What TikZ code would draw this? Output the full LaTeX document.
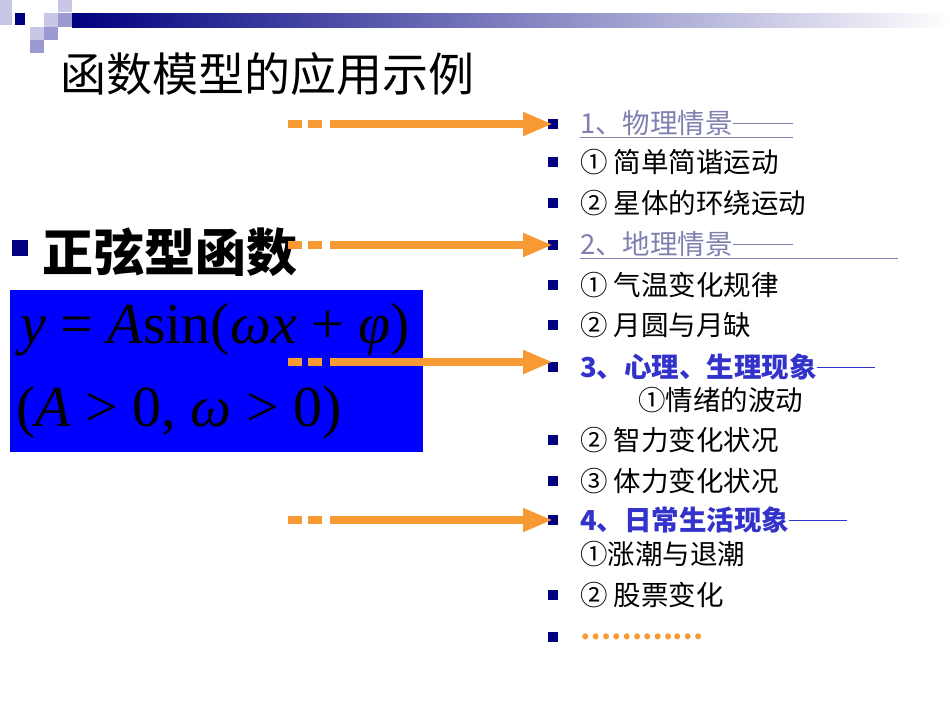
\documentclass[tikz,border=0pt]{standalone}
\usepackage{fontspec}
\setmainfont{Noto Sans CJK SC}
\newfontfamily\tms{Liberation Serif}
\usetikzlibrary{arrows.meta}
\definecolor{navy}{HTML}{000080}
\definecolor{lgray}{HTML}{7F7FB0}
\definecolor{sq1}{HTML}{C8C8E6}
\definecolor{sq2}{HTML}{9A9AD0}
\definecolor{orng}{HTML}{F79A33}
\definecolor{bbox}{HTML}{0000FF}
\definecolor{blu3}{HTML}{3333CC}
\newcommand\mydash[1]{\rule[0.33em]{#1}{1.6pt}}
\begin{document}
\begin{tikzpicture}[x=1pt,y=-1pt,
  bul/.style={fill=navy,minimum size=10pt,inner sep=0pt},
  item/.style={anchor=west,inner sep=0pt,font=\fontsize{27.5}{27.5}\selectfont},
  arr/.style={orng,line width=8pt,-{Triangle[length=30pt,width=22pt]}},
  dsh/.style={orng,line width=8pt}]
\useasboundingbox[fill=white] (0,0) rectangle (950,713);
% decoration
\fill[sq1] (0,0) rectangle (12,12);
\fill[sq1] (0,12) rectangle (12,25);
\fill[sq1] (58,0) rectangle (72,12);
\fill[navy] (15,13) rectangle (25,25);
\fill[sq1] (44,13) rectangle (58,27);
\fill[sq2] (58,13) rectangle (72,27);
\fill[sq1] (30,27) rectangle (44,40);
\fill[sq2] (44,27) rectangle (58,40);
\fill[sq2] (30,40) rectangle (44,53);
\shade[left color=navy,right color=white] (72,13) rectangle (950,27);
\node[anchor=west,inner sep=0pt,font=\fontsize{46}{46}\selectfont] (title) at (60,74) {函数模型的应用示例};
% left
\node[fill=navy,minimum size=16pt,inner sep=0pt] (lb) at (20,248) {};
\node[anchor=west,inner sep=0pt,font=\fontsize{51}{51}\selectfont\bfseries] (zx) at (42,252) {正弦型函数};
\node[fill=bbox,minimum width=413pt,minimum height=162pt,anchor=north west,inner sep=0pt] (box) at (10,290) {};
\node[anchor=west,inner sep=0pt,font=\tms\fontsize{58}{58}\selectfont] (f1) at (20,330) {\textit{y} = \textit{A}sin(\textit{ωx} + \textit{φ})};
\node[anchor=west,inner sep=0pt,font=\tms\fontsize{58}{58}\selectfont] (f2) at (16,413) {(\textit{A} > 0, \textit{ω} > 0)};
% list
\foreach \y/\n in {124/b1,162/b2,203/b3,245/b4,285/b5,325/b6,367/b7,440/b8,481/b9,520/b10,595/b11,637/b12}
  \node[bul] (\n) at (553,\y) {};
\node[item,lgray] (t1) at (580,124) {\underline{1、物理情景\mydash{60pt}}};
\node[item] (t2) at (580,162) {① 简单简谐运动};
\node[item] (t3) at (580,203) {② 星体的环绕运动};
\node[item,lgray] (t4) at (580,245) {\underline{2、地理情景\mydash{60pt}\hspace{105pt}}};
\node[item] (t5) at (580,285) {① 气温变化规律};
\node[item] (t6) at (580,325) {② 月圆与月缺};
\node[item,blu3,font=\fontsize{27.5}{27.5}\selectfont\bfseries] (t7) at (580,367) {3、心理、生理现象\mydash{58pt}};
\node[item] (t7b) at (638,400) {①情绪的波动};
\node[item] (t8) at (580,440) {② 智力变化状况};
\node[item] (t9) at (580,481) {③ 体力变化状况};
\node[item,blu3,font=\fontsize{27.5}{27.5}\selectfont\bfseries] (t10) at (580,520) {4、日常生活现象\mydash{58pt}};
\node[item] (t10b) at (580,554) {①涨潮与退潮};
\node[item] (t11) at (580,595) {② 股票变化};
\node[item,orng,font=\fontsize{27.5}{27.5}\selectfont\bfseries] (t12) at (580,637) {…………};
% arrows
\foreach \y/\n in {124/b1,245/b4,362/b7,520/b10}{
  \coordinate (s\n) at (330,\y);
  \coordinate (e\n) at (553,\y);
  \draw[dsh] (288,\y) -- (302,\y);
  \draw[dsh] (308,\y) -- (322,\y);
  \draw[arr] (s\n) -- (e\n);
}
\end{tikzpicture}
\end{document}
